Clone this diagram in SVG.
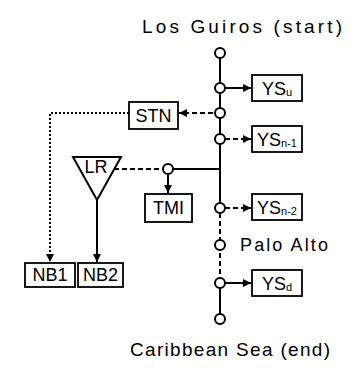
<svg xmlns="http://www.w3.org/2000/svg" width="350" height="370" viewBox="0 0 350 370">
<style>
.ln{stroke:#000;stroke-width:2;fill:none}
.dash{stroke:#000;stroke-width:2;fill:none;stroke-dasharray:5 3}
.dot{stroke:#000;stroke-width:2;fill:none;stroke-dasharray:2 2}
.st{fill:#fff;stroke:#000;stroke-width:2}
.box{fill:#fff;stroke:#000;stroke-width:1.8}
.t{font-family:"Liberation Sans",Arial,sans-serif;fill:#000}
.lbl{font-family:"Liberation Sans",Arial,sans-serif;font-size:18px;fill:#000;text-anchor:middle}
.sub{font-size:11px}
</style>
<defs>
<marker id="ah" viewBox="0 0 10 10" refX="10" refY="5" markerWidth="8" markerHeight="8" markerUnits="userSpaceOnUse" orient="auto">
<path d="M0,0 L10,5 L0,10 z" fill="#000"/>
</marker>
</defs>
<text class="t" x="142" y="33" font-size="19" textLength="200" lengthAdjust="spacing">Los Guiros (start)</text>
<text class="t" x="130" y="356" font-size="19" textLength="200" lengthAdjust="spacing">Caribbean Sea (end)</text>
<g id="connectors">
<line class="ln" x1="220" y1="58" x2="220" y2="203"/>
<line class="dash" x1="220" y1="213" x2="220" y2="278"/>
<line class="ln" x1="220" y1="288" x2="220" y2="314"/>
<line class="ln" x1="225" y1="88" x2="251" y2="88" marker-end="url(#ah)"/>
<line class="dash" x1="213" y1="113" x2="179" y2="113" marker-end="url(#ah)"/>
<line class="dash" x1="225" y1="139" x2="251" y2="139" marker-end="url(#ah)"/>
<line class="dash" x1="225" y1="208" x2="251" y2="208" marker-end="url(#ah)"/>
<line class="ln" x1="225" y1="283" x2="251" y2="283" marker-end="url(#ah)"/>
<polyline class="dot" points="129,113 50,113 50,262" marker-end="url(#ah)"/>
<line class="ln" x1="97" y1="200" x2="97" y2="262" marker-end="url(#ah)"/>
<line class="dash" x1="114" y1="169" x2="163" y2="169"/>
<line class="ln" x1="173" y1="169" x2="220" y2="169"/>
<line class="ln" x1="168" y1="174" x2="168" y2="193" marker-end="url(#ah)"/>
</g>
<g id="start"><circle class="st" cx="220" cy="53" r="5"/></g>
<g id="c_ysu"><circle class="st" cx="220" cy="88" r="5"/></g>
<g id="c_stn"><circle class="st" cx="220" cy="113" r="5"/></g>
<g id="c_ysn1"><circle class="st" cx="220" cy="139" r="5"/></g>
<g id="c_ysn2"><circle class="st" cx="220" cy="208" r="5"/></g>
<g id="palo_alto"><circle class="st" cx="220" cy="245" r="5"/><text class="t" x="240" y="251" font-size="18" textLength="88" lengthAdjust="spacing">Palo Alto</text></g>
<g id="c_ysd"><circle class="st" cx="220" cy="283" r="5"/></g>
<g id="end"><circle class="st" cx="220" cy="319" r="5"/></g>
<g id="c_tmi"><circle class="st" cx="168" cy="169" r="5"/></g>
<g id="YSu"><rect class="box" x="252" y="75" width="50" height="26"/><text class="lbl" x="277" y="95">YS<tspan class="sub" dy="1">u</tspan></text></g>
<g id="YSn1"><rect class="box" x="252" y="126" width="50" height="26"/><text class="lbl" x="277" y="146">YS<tspan class="sub" dy="1">n-1</tspan></text></g>
<g id="YSn2"><rect class="box" x="252" y="194" width="50" height="26"/><text class="lbl" x="277" y="214">YS<tspan class="sub" dy="1">n-2</tspan></text></g>
<g id="YSd"><rect class="box" x="252" y="270" width="50" height="26"/><text class="lbl" x="277" y="290">YS<tspan class="sub" dy="1">d</tspan></text></g>
<g id="STN"><rect class="box" x="129" y="102" width="49" height="27"/><text class="lbl" x="153.5" y="122">STN</text></g>
<g id="TMI"><rect class="box" x="145" y="194" width="47" height="28"/><text class="lbl" x="168.5" y="214" font-size="16">TMI</text></g>
<g id="LR"><polygon class="st" points="73,157 121,157 97,200"/><text class="lbl" x="96" y="173" font-size="16">LR</text></g>
<g id="NB1"><rect class="box" x="25" y="263" width="50" height="24"/><text class="lbl" x="50" y="281" font-size="15">NB1</text></g>
<g id="NB2"><rect class="box" x="78" y="263" width="45" height="24"/><text class="lbl" x="100.5" y="281" font-size="15">NB2</text></g>
</svg>
